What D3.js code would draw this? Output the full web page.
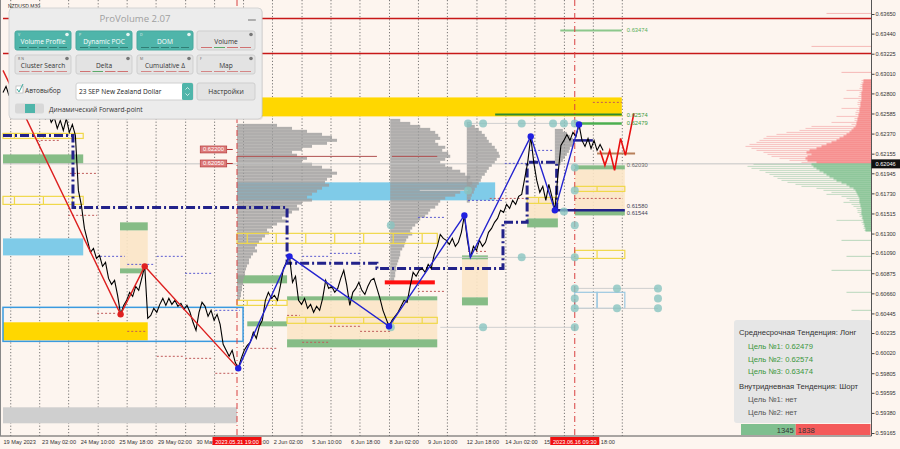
<!DOCTYPE html>
<html><head><meta charset="utf-8">
<script src="https://cdn.jsdelivr.net/npm/d3@7/dist/d3.min.js"></script>
<style>html,body{margin:0;padding:0;background:#fdf5ef;}svg{display:block;}</style>
</head><body><svg id="c" width="900" height="449"></svg>
<script>
// ---------------- DATA ----------------
const symbolTitle = "NZDUSD,M30";
const yTickValues = [0.63650,0.63440,0.63225,0.63010,0.62800,0.62585,0.62370,0.62155,0.61945,0.61730,0.61515,0.61300,0.61090,0.60875,0.60660,0.60445,0.60235,0.60020,0.59805,0.59595,0.59380,0.59165];
const timeLabels = ["19 May 2023","23 May 02:00","24 May 10:00","25 May 18:00","29 May 02:00","30 May 10:00","31 May 18:00","2 Jun 02:00","5 Jun 10:00","6 Jun 18:00","8 Jun 02:00","9 Jun 10:00","12 Jun 18:00","14 Jun 02:00","15 Jun 10:00","16 Jun 18:00"];
const timeLabelBars = [0,64,128,192,256,320,384,448,512,576,640,704,768,832,896,960];
const gridBars = [12,60,108,157,205,253,302,350,398,446,495,543,591,640,688,736,785,833,881,930,978,1026];
const markerBars = [388,948];
const markerLabels = ["2023.05.31 19:00","2023.06.16 09:30"];
const currentPrice = 0.62046;

const priceBarStep = 5;
const closePrices = [0.62811,0.62875,0.62778,0.62746,0.62725,0.62768,0.62682,0.62725,0.62639,0.62693,
0.62618,0.62661,0.62575,0.62639,0.62532,0.62597,0.62490,0.62543,0.62425,0.62511,
0.62404,0.62532,0.62383,0.62468,0.62350,0.61762,0.61601,0.61355,0.61227,0.61099,
0.61141,0.61034,0.61066,0.60949,0.60992,0.60820,0.60756,0.60799,0.60638,0.60435,
0.60531,0.60585,0.60671,0.60628,0.60735,0.60692,0.60820,0.60949,0.60392,0.60424,
0.60499,0.60457,0.60542,0.60606,0.60531,0.60606,0.60542,0.60585,0.60521,0.60553,
0.60489,0.60531,0.60457,0.60350,0.60264,0.60457,0.60564,0.60521,0.60414,0.60478,
0.60371,0.60435,0.60328,0.60114,0.60050,0.59986,0.60050,0.59922,0.59857,0.59964,
0.60050,0.60103,0.60136,0.60243,0.60178,0.60307,0.60371,0.60585,0.60671,0.60606,
0.60638,0.60585,0.60745,0.60927,0.60992,0.61056,0.60778,0.60842,0.60585,0.60542,
0.60606,0.60499,0.60542,0.60457,0.60521,0.60478,0.60606,0.60799,0.60713,0.60735,
0.60671,0.60713,0.60820,0.60906,0.60745,0.60531,0.60671,0.60713,0.60778,0.60692,
0.60649,0.60735,0.60799,0.60820,0.60713,0.60606,0.60478,0.60392,0.60307,0.60371,
0.60414,0.60457,0.60521,0.60585,0.60564,0.60735,0.60885,0.60842,0.60906,0.60927,
0.60885,0.60970,0.60927,0.61077,0.61163,0.61291,0.61248,0.61227,0.61184,0.61248,
0.61163,0.61206,0.61313,0.61494,0.61227,0.61045,0.61163,0.61120,0.61227,0.61163,
0.61206,0.61313,0.61355,0.61420,0.61462,0.61548,0.61527,0.61612,0.61569,0.61655,
0.61612,0.61698,0.61719,0.61890,0.62062,0.62340,0.62062,0.61869,0.61741,0.61805,
0.61655,0.61826,0.61698,0.61548,0.61922,0.62243,0.62297,0.62361,0.62297,0.62383,
0.62340,0.62468,0.62297,0.62233,0.62318,0.62211,0.62297,0.62190,0.62254,0.62190];

const redZigzag = [[0,0.63046],[195,0.60435],[235,0.60949],[390,0.59857]];
const redPivots = [[195,0.60435],[235,0.60949]];
const blueZigzag = [[390,0.59857],[475,0.61056],[640,0.60307],[765,0.61494],[775,0.61045],[875,0.62340],[915,0.61548],[955,0.62468]];
const bluePivots = [[390,0.59857],[475,0.61056],[640,0.60307],[765,0.61494],[875,0.62340],[915,0.61548],[955,0.62468]];
const forecastPath = [[990,0.62190],[998,0.62030],[1006,0.62190],[1014,0.61976],[1024,0.62318],[1032,0.62137],[1046,0.62586]];

// zones: [startBar, endBar, lowPrice, highPrice]
const goldZones = [[390,1026,0.62554,0.62757],[0,240,0.60157,0.60350]];
const skyZones = [[0,133,0.61066,0.61248],[388,816,0.61655,0.61848]];
const grayZones = [[0,388,0.59269,0.59440]];
const creamZones = [[194,240,0.60927,0.61334],[471,720,0.60168,0.60585],[761,804,0.60617,0.61024],[869,920,0.61462,0.61687],[948,1031,0.61548,0.61987]];
const greenZones = [[0,133,0.62051,0.62147],[194,240,0.61334,0.61420],[194,232,0.60874,0.60927],[388,471,0.60767,0.60853],[405,471,0.60307,0.60360],[471,720,0.60585,0.60628],[471,720,0.60082,0.60168],[761,804,0.61024,0.61066],[761,804,0.60531,0.60617],[869,920,0.61366,0.61462],[948,1031,0.61987,0.62030],[948,1031,0.61494,0.61548]];
const yellowBoxes = [[0,133,0.62318,0.62372],[0,133,0.61612,0.61698],[388,720,0.61195,0.61302],[388,471,0.60531,0.60585],[471,720,0.60339,0.60403],[869,920,0.61623,0.61687],[948,1031,0.61751,0.61805],[948,1031,0.61034,0.61120]];
const blueFrames = [[0,398,0.60146,0.60510]];
const lightBlueBoxes = [[948,985,0.60499,0.60671],[985,1031,0.60499,0.60671]];
const redMarkZones = [[633,716,0.60756,0.60799]];

// horizontal lines: [startBar, endBar, price]
const resistanceLevels = [0.63602,0.63228];
const targetLines = [[924,1026,0.63474],[816,1026,0.62574],[948,1026,0.62479]];
const levelTags = [0.63474,0.62574,0.62479,0.62030,0.61580,0.61544];
const grayLines = [[771,948,0.62479],[691,948,0.61045],[725,948,0.60296],[948,1086,0.60713],[948,1086,0.60499],[691,771,0.61762]];
const darkRedLines = [[388,620,0.62126],[645,720,0.62126]];
const brownLines = [[985,1048,0.62158]];
const purpleDashes = [[161,202,0.61056],[206,249,0.60970],[255,298,0.61056],[302,348,0.60874],[352,393,0.60478],[496,539,0.61056],[542,592,0.61088],[688,733,0.61473],[771,829,0.61655],[832,869,0.62051],[874,912,0.62190]];
const brownDashes = [[56,95,0.62297],[111,156,0.61944],[108,156,0.61495],[156,189,0.60446],[206,239,0.60253],[255,298,0.59986],[302,348,0.59964],[352,388,0.59804],[410,454,0.60071],[471,492,0.60424],[496,539,0.60136],[542,592,0.60307],[592,642,0.60253],[688,733,0.60681],[771,804,0.61109],[807,869,0.61676],[948,1028,0.61676],[978,1026,0.62704]];
const navyStep = [[0,0.62350],[116,0.62350],[116,0.61580],[471,0.61580],[471,0.60981],[620,0.60981],[620,0.60927],[829,0.60927],[829,0.61420],[869,0.61420],[869,0.62062],[918,0.62062],[918,0.61548]];
const navySolid = [[912,1031,0.61548],[945,978,0.62297]];
const priceTags = [0.62200,0.62050];
const priceTagBars = [327,371];

const tealDots = [[771,0.62479],[796,0.62479],[860,0.62479],[912,0.62479],[930,0.62479],[948,0.62479],[771,0.61762],[948,0.62008],[948,0.61762],[930,0.61537],[948,0.61388],[860,0.61045],[948,0.61045],[948,0.60713],[1018,0.60713],[1086,0.60713],[948,0.60606],[1086,0.60606],[948,0.60499],[1018,0.60499],[1086,0.60499],[796,0.60296],[948,0.60296],[643,0.61388],[643,0.60296]];

// gray volume profiles (volumes per price level, top price, step)
const profileStep = 0.00032;
const profile1Bar = 388, profile1Top = 0.62458;
const profile1Vols = [40,55,70,85,95,100,90,75,65,55,60,70,65,75,85,95,100,95,90,88,92,85,80,75,70,75,65,60,62,55,50,45,50,40,35,30,32,28,25,22,20,18,20,16,14,12,12,10,9,8,8,7,6,6,5,5,4,4,3];
const profile2Bar = 642, profile2Top = 0.62511;
const profile2Vols = [10,20,30,40,45,48,50,45,48,55,52,58,60,55,50,55,62,70,75,80,78,82,80,75,70,65,55,50,48,45,40,38,35,30,28,25,22,20,22,18,16,15,14,12,10,10,9,8,7,6,6,5,5,4,4];
const profile3Bar = 769, profile3Top = 0.62479;
const profile3Vols = [4,8,12,15,18,20,22,25,28,30,32,33,30,28,25,22,20,18,15,14,12,10,8,7,5,4,3];
const profile4Bar = 915, profile4Top = 0.62404;
const profile4Vols = [8,12,15,18,20,18,15,14,12,10,8,6];

// right-side market profile
const rightProfileTop = 0.62939, rightProfileStep = 0.000214;
const rightProfileVolume = [10,10,11,11,12,25,12,12,13,28,13,14,14,13,30,15,16,16,35,17,17,40,20,
60,66,72,85,95,105,108,112,115,122,126,120,115,108,104,100,92,82,70,118,124,120,112,106,102,98,94,90,84,76,70,55,48,40,45,30,25,22,28,20,18,15,14,14,12,12,10,35,10,9,8,8,7];
const rightProfileDelta = [8,8,9,9,9,9,10,10,10,10,10,11,11,11,12,12,12,13,13,14,14,15,15,
16,18,20,22,25,28,32,35,40,45,50,55,62,65,60,64,66,64,55,60,58,55,52,48,45,42,38,35,30,25,22,18,16,15,14,13,12,12,12,11,11,10,10,10,10,9,9,8,8,7,7,6,6];
const rightProfileSparse = [[0.63656,45],[0.63303,60],[0.63025,30],[0.61227,30],[0.61056,25],[0.60906,40],[0.60671,25],[0.60478,20],[0.60018,18],[0.59749,15]];

// info panel
const midTrendLabel = "Среднесрочная Тенденция: Лонг";
const midTargets = [0.62479,0.62574,0.63474];
const dayTrendLabel = "Внутридневная Тенденция: Шорт";
const dayTargets = ["нет","нет"];
const domBuy = 1345, domSell = 1838;

// ProVolume panel
const panelTitle = "ProVolume 2.07";
const panelButtons = ["Volume Profile","Dynamic POC","DOM","Volume","Cluster Search","Delta","Cumulative Δ","Map"];
const panelActive = [true,true,true,false,false,false,false,false];
const panelHotkeys = ["V","P","D","","R  N","","M","F"];
const panelAuto = "Автовыбор", panelInstrument = "23 SEP New Zealand Dollar", panelSettings = "Настройки", panelForward = "Динамический Forward-point";

// ---------------- DRAW ----------------
const svg = d3.select('#c');
const BG = '#fdf5ef';
svg.append('rect').attr('width',900).attr('height',449).attr('fill',BG);
const x = d3.scaleLinear().domain([0,1440]).range([3,871.5]);
const y = d3.scaleLinear().domain([0.59165,0.63650]).range([433,14]);
const volX = d3.scaleLinear().domain([0,100]).range([0,100]);
const PR = 871.5, PB = 436;
const FONT = 'Liberation Sans, Arial, sans-serif';
svg.append('defs').append('clipPath').attr('id','plot').append('rect').attr('x',0).attr('y',0).attr('width',PR).attr('height',PB);
const g = svg.append('g').attr('clip-path','url(#plot)');
const line = d3.line().x(d=>x(d[0])).y(d=>y(d[1]));

function zones(arr, fill, op){
  g.append('g').selectAll('rect').data(arr).join('rect')
   .attr('x',d=>x(d[0])).attr('y',d=>y(d[3])).attr('width',d=>x(d[1])-x(d[0])).attr('height',d=>y(d[2])-y(d[3]))
   .attr('fill',fill).attr('opacity',op);
}
function hlines(arr, stroke, w, dash){
  g.append('g').selectAll('line').data(arr).join('line')
   .attr('x1',d=>x(d[0])).attr('x2',d=>x(d[1])).attr('y1',d=>y(d[2])).attr('y2',d=>y(d[2]))
   .attr('stroke',stroke).attr('stroke-width',w).attr('stroke-dasharray',dash||null);
}

// grid
g.append('g').selectAll('line').data(gridBars).join('line')
 .attr('x1',d=>x(d)+0.5).attr('x2',d=>x(d)+0.5).attr('y1',0).attr('y2',PB)
 .attr('stroke','#555').attr('stroke-width',0.8).attr('stroke-dasharray','1.2,2');

zones(grayZones,'#cfcfcf',1);
zones(goldZones,'#ffd700',1);
zones(skyZones,'#7fcbe8',1);
zones(creamZones,'#fbe6c6',0.9);
zones(greenZones,'#86bc86',1);

// gray volume profiles
[[profile1Bar,profile1Top,profile1Vols],[profile2Bar,profile2Top,profile2Vols],[profile3Bar,profile3Top,profile3Vols],[profile4Bar,profile4Top,profile4Vols]].forEach(p=>{
  g.append('g').selectAll('rect').data(p[2]).join('rect')
   .attr('x',x(p[0])).attr('y',(d,i)=>y(p[1]-i*profileStep)-1.5).attr('width',d=>volX(d)).attr('height',3)
   .attr('fill','#9c9c9c').attr('opacity',0.8);
});

// yellow boxes with daily dividers
const yb = g.append('g');
yellowBoxes.forEach(d=>{
  yb.append('rect').attr('x',x(d[0])).attr('y',y(d[3])).attr('width',x(d[1])-x(d[0])).attr('height',y(d[2])-y(d[3]))
    .attr('fill','none').attr('stroke','#f0d84a').attr('stroke-width',1.2);
  gridBars.filter(b=>b+7>d[0]+4 && b+7<d[1]-4).forEach(b=>{
    yb.append('line').attr('x1',x(b+7)).attr('x2',x(b+7)).attr('y1',y(d[3])).attr('y2',y(d[2])).attr('stroke','#f0d84a').attr('stroke-width',1.2);
  });
});
g.append('g').selectAll('rect').data(blueFrames).join('rect')
 .attr('x',d=>x(d[0])).attr('y',d=>y(d[3])).attr('width',d=>x(d[1])-x(d[0])).attr('height',d=>y(d[2])-y(d[3]))
 .attr('fill','none').attr('stroke','#3a9ae0').attr('stroke-width',1.5);
g.append('g').selectAll('rect').data(lightBlueBoxes).join('rect')
 .attr('x',d=>x(d[0])).attr('y',d=>y(d[3])).attr('width',d=>x(d[1])-x(d[0])).attr('height',d=>y(d[2])-y(d[3]))
 .attr('fill','none').attr('stroke','#9cc8e0').attr('stroke-width',1.2);

// horizontal levels
hlines(resistanceLevels.map(p=>[0,1440,p]),'#c81818',1.5);
hlines([[0,1440,currentPrice]],'#c4c4c4',1);
hlines(grayLines,'#cfcfcf',1);
hlines(darkRedLines,'#b05050',1);
hlines(purpleDashes,'#5a5ad0',1,'2,2');
hlines(brownDashes,'#c05a5a',1,'2,2');
hlines(targetLines.slice(0,1),'#8cc88c',2);
hlines(targetLines.slice(1,2),'#2e8b2e',2);
hlines(targetLines.slice(2,3),'#4caf50',2.5);
hlines(brownLines,'#b8805a',2);

// vertical markers
g.append('g').selectAll('line').data(markerBars).join('line')
 .attr('x1',d=>x(d)).attr('x2',d=>x(d)).attr('y1',0).attr('y2',PB)
 .attr('stroke','#d84040').attr('stroke-width',1).attr('stroke-dasharray','6,3,1,3');

// right market profile
const rp = g.append('g');
rightProfileVolume.forEach((v,i)=>{
  const p = rightProfileTop - i*rightProfileStep, up = p > currentPrice;
  rp.append('rect').attr('x',PR-volX(v)).attr('y',y(p)-0.5).attr('width',volX(v)).attr('height',1)
    .attr('fill',up?'#f3a0a0':'#9ccaa6').attr('opacity',0.6);
});
rightProfileDelta.forEach((v,i)=>{
  const p = rightProfileTop - i*rightProfileStep, up = p > currentPrice;
  rp.append('rect').attr('x',PR-volX(v)).attr('y',y(p)-1.1).attr('width',volX(v)).attr('height',2.3)
    .attr('fill',up?'#f58a8a':'#88c496').attr('opacity',0.9);
});
rightProfileSparse.forEach(d=>{
  rp.append('rect').attr('x',PR-volX(d[1])).attr('y',y(d[0])-0.5).attr('width',volX(d[1])).attr('height',1)
    .attr('fill',d[0]>currentPrice?'#f3a0a0':'#9ccaa6').attr('opacity',0.7);
});

zones(redMarkZones,'#ff1010',1);

// navy dash-dot structure
g.append('path').attr('d',line(navyStep)).attr('fill','none').attr('stroke','#22228a').attr('stroke-width',3).attr('stroke-dasharray','9,3,2,3');
hlines(navySolid,'#22228a',2.5);

// teal dots
g.append('g').selectAll('circle').data(tealDots).join('circle')
 .attr('cx',d=>x(d[0])).attr('cy',d=>y(d[1])).attr('r',4).attr('fill','#88c4c0').attr('opacity',0.8);

// price line
g.append('path').attr('d',line(closePrices.map((p,i)=>[i*priceBarStep,p]))).attr('fill','none').attr('stroke','#000').attr('stroke-width',1.1).attr('stroke-linejoin','miter');

// zigzags
g.append('path').attr('d',line(redZigzag)).attr('fill','none').attr('stroke','#dd2020').attr('stroke-width',1.4);
g.append('path').attr('d',line(blueZigzag)).attr('fill','none').attr('stroke','#2323d0').attr('stroke-width',1.4);
g.append('path').attr('d',line(forecastPath)).attr('fill','none').attr('stroke','#e81010').attr('stroke-width',1.6);
g.append('g').selectAll('circle').data(redPivots).join('circle').attr('cx',d=>x(d[0])).attr('cy',d=>y(d[1])).attr('r',3.2).attr('fill','#e02020');
g.append('g').selectAll('circle').data(bluePivots).join('circle').attr('cx',d=>x(d[0])).attr('cy',d=>y(d[1])).attr('r',3.2).attr('fill','#2020e0');

// level tags (last two nudged apart so they stay legible)
const fmt = d3.format('.5f');
const tagColors = ['#5aaf5a','#3c9a3c','#3c9a3c','#666','#445','#445'];
const tagNudge = [0,0,0,0,-1.5,2.5];
g.append('g').selectAll('text').data(levelTags).join('text')
 .attr('x',x(1026)+5).attr('y',(d,i)=>y(d)+2+tagNudge[i]).text(d=>fmt(d))
 .attr('font-family',FONT).attr('font-size',5.8).attr('fill',(d,i)=>tagColors[i]);
// price tags left
priceTags.forEach(p=>{
  const gx = g.append('g');
  gx.append('line').attr('x1',x(priceTagBars[1])).attr('x2',x(priceTagBars[1])+6).attr('y1',y(p)).attr('y2',y(p)).attr('stroke','#b03030');
  gx.append('rect').attr('x',x(priceTagBars[0])).attr('y',y(p)-3.5).attr('width',x(priceTagBars[1])-x(priceTagBars[0])).attr('height',7).attr('fill','#dc7a7a').attr('stroke','#b03030').attr('stroke-width',0.6);
  gx.append('text').attr('x',(x(priceTagBars[0])+x(priceTagBars[1]))/2).attr('y',y(p)+2).attr('text-anchor','middle').text(fmt(p))
    .attr('font-family',FONT).attr('font-size',5.8).attr('fill','#fff');
});

// info box
const ib = svg.append('g');
ib.append('rect').attr('x',734).attr('y',320).attr('width',PR-734).attr('height',103).attr('rx',3).attr('fill','#e6e6e6');
const infoRows = [[midTrendLabel,739,335,'#333']]
  .concat(midTargets.map((t,i)=>[`Цель №${i+1}: ${fmt(t)}`,748,349+i*12.5,'#3c963c']))
  .concat([[dayTrendLabel,739,389,'#333']])
  .concat(dayTargets.map((t,i)=>[`Цель №${i+1}: ${t}`,748,401.5+i*13,'#555']));
ib.selectAll('text').data(infoRows).join('text').attr('x',d=>d[1]).attr('y',d=>d[2]).text(d=>d[0]).attr('fill',d=>d[3])
  .attr('font-family',FONT).attr('font-size',7.7);
const domX = d3.scaleLinear().domain([0,domBuy+domSell]).range([741,PR-1]);
ib.append('rect').attr('x',domX(0)).attr('y',424).attr('width',domX(domBuy)-domX(0)).attr('height',11).attr('fill','#7fbf8f');
ib.append('rect').attr('x',domX(domBuy)).attr('y',424).attr('width',domX(domBuy+domSell)-domX(domBuy)).attr('height',11).attr('fill','#f45a5a');
ib.append('text').attr('x',domX(domBuy)-2).attr('y',432.5).attr('text-anchor','end').text(domBuy).attr('font-family',FONT).attr('font-size',7.6).attr('fill','#333');
ib.append('text').attr('x',domX(domBuy)+2).attr('y',432.5).text(domSell).attr('font-family',FONT).attr('font-size',7.6).attr('fill','#333');

// axes
const ax = svg.append('g').attr('transform',`translate(${PR},0)`).call(d3.axisRight(y).tickValues(yTickValues).tickFormat(fmt).tickSize(3));
ax.select('.domain').remove();
ax.selectAll('line').attr('stroke','#444');
ax.selectAll('text').attr('font-family',FONT).attr('font-size',5.6).attr('fill','#333').attr('x',4);
svg.append('line').attr('x1',PR).attr('x2',PR).attr('y1',0).attr('y2',PB).attr('stroke','#555');
svg.append('line').attr('x1',0).attr('x2',PR).attr('y1',PB).attr('y2',PB).attr('stroke','#555');
svg.append('line').attr('x1',0.5).attr('x2',0.5).attr('y1',0).attr('y2',PB).attr('stroke','#888');
const bx = svg.append('g').attr('transform',`translate(0,${PB})`).call(d3.axisBottom(x).tickValues(timeLabelBars).tickFormat((d,i)=>timeLabels[i]).tickSize(0));
bx.select('.domain').remove();
bx.selectAll('text').attr('text-anchor','start').attr('dy',0).attr('y',7.5).attr('font-family',FONT).attr('font-size',5.6).attr('fill','#333');
// current price box
svg.append('rect').attr('x',PR).attr('y',y(currentPrice)-4.5).attr('width',900-PR).attr('height',9).attr('fill','#111');
svg.append('text').attr('x',PR+4).attr('y',y(currentPrice)+2).text(fmt(currentPrice)).attr('font-family',FONT).attr('font-size',5.6).attr('fill','#fff');
// marker date labels
markerBars.forEach((b,i)=>{
  svg.append('rect').attr('x',x(b)-24.5).attr('y',437).attr('width',49).attr('height',8).attr('fill','#f01010');
  svg.append('text').attr('x',x(b)).attr('y',443.5).attr('text-anchor','middle').text(markerLabels[i]).attr('font-family',FONT).attr('font-size',5.6).attr('fill','#fff');
});
svg.append('text').attr('x',8).attr('y',8).text(symbolTitle).attr('font-family',FONT).attr('font-size',5).attr('fill','#222');

// ProVolume panel
const pn = svg.append('g');
pn.append('rect').attr('x',10).attr('y',9).attr('width',253).attr('height',111).attr('rx',4).attr('fill','#000').attr('opacity',0.08);
pn.append('rect').attr('x',9).attr('y',8).attr('width',253).attr('height',111).attr('rx',4).attr('fill','#ececec').attr('stroke','#d4d4d4');
pn.append('text').attr('x',135).attr('y',22).attr('text-anchor','middle').text(panelTitle).attr('font-family','Open Sans, sans-serif').attr('font-size',9.6).attr('fill','#a0a0a0');
pn.append('line').attr('x1',248).attr('x2',256).attr('y1',20).attr('y2',20).attr('stroke','#888').attr('stroke-width',1.2);
const bxs = [15,76,137,197], bws = [56,56,56,58];
panelButtons.forEach((t,i)=>{
  const c = i%4, r = Math.floor(i/4), bx0 = bxs[c], by0 = r===0?31:55, bw = bws[c], bh = 19;
  const act = panelActive[i];
  pn.append('rect').attr('x',bx0).attr('y',by0).attr('width',bw).attr('height',bh).attr('rx',2).attr('fill',act?'#4fb5aa':'#e3e3e3').attr('stroke',act?'#46a89d':'#cfcfcf');
  pn.append('text').attr('x',bx0+bw/2).attr('y',by0+12.5).attr('text-anchor','middle').text(t).attr('font-family','Open Sans, sans-serif').attr('font-size',6.6).attr('fill',act?'#fff':'#333');
  pn.append('circle').attr('cx',bx0+bw-4).attr('cy',by0+3.5).attr('r',1.8).attr('fill',act?'#e8f4f2':'#777');
  if(panelHotkeys[i]) pn.append('text').attr('x',bx0+3).attr('y',by0+5).text(panelHotkeys[i]).attr('font-family','Open Sans, sans-serif').attr('font-size',3.6).attr('fill',act?'#e0f0ee':'#666');
  const cols = act?['#2a6f66','#2a6f66','#2a6f66','#2a6f66','#2a6f66']:(i===3||i===5?['#cc5555','#3a9a4a','#cc5555','#cc5555']:['#d07070','#d07070','#d07070','#d07070']);
  cols.forEach((cc,k)=>{ const seg=(bw-6)/cols.length; pn.append('line').attr('x1',bx0+3+k*seg+1).attr('x2',bx0+3+(k+1)*seg-1).attr('y1',by0+bh-2.5).attr('y2',by0+bh-2.5).attr('stroke',cc).attr('stroke-width',0.8); });
});
pn.append('rect').attr('x',16).attr('y',86).attr('width',7).attr('height',7).attr('fill','#fff').attr('stroke','#aaa').attr('stroke-width',0.6);
pn.append('path').attr('d','M17,89 L19,92 L23,84').attr('fill','none').attr('stroke','#3aa89c').attr('stroke-width',1);
pn.append('text').attr('x',25).attr('y',93).text(panelAuto).attr('font-family','Open Sans, sans-serif').attr('font-size',6.6).attr('fill','#333');
pn.append('rect').attr('x',76).attr('y',83).attr('width',117).attr('height',17).attr('rx',2).attr('fill','#fff').attr('stroke','#d0d0d0');
pn.append('rect').attr('x',182).attr('y',83).attr('width',11).attr('height',17).attr('rx',1.5).attr('fill','#4fb5aa');
pn.append('path').attr('d','M185.5,89.5 L187.5,87.5 L189.5,89.5 M185.5,93.5 L187.5,95.5 L189.5,93.5').attr('fill','none').attr('stroke','#fff').attr('stroke-width',0.7);
pn.append('text').attr('x',79).attr('y',94).text(panelInstrument).attr('font-family','Open Sans, sans-serif').attr('font-size',6.6).attr('fill','#222');
pn.append('rect').attr('x',197).attr('y',83).attr('width',58).attr('height',17).attr('rx',2).attr('fill','#e3e3e3').attr('stroke','#cfcfcf');
pn.append('text').attr('x',226).attr('y',94).attr('text-anchor','middle').text(panelSettings).attr('font-family','Open Sans, sans-serif').attr('font-size',6.8).attr('fill','#333');
pn.append('rect').attr('x',15).attr('y',103.5).attr('width',29).attr('height',10).attr('rx',2).attr('fill','#d8d8d8');
pn.append('rect').attr('x',25).attr('y',104).attr('width',10).attr('height',9).attr('fill','#4fb5aa');
pn.append('text').attr('x',49).attr('y',111.5).text(panelForward).attr('font-family','Open Sans, sans-serif').attr('font-size',6.6).attr('fill','#333');
</script></body></html>
